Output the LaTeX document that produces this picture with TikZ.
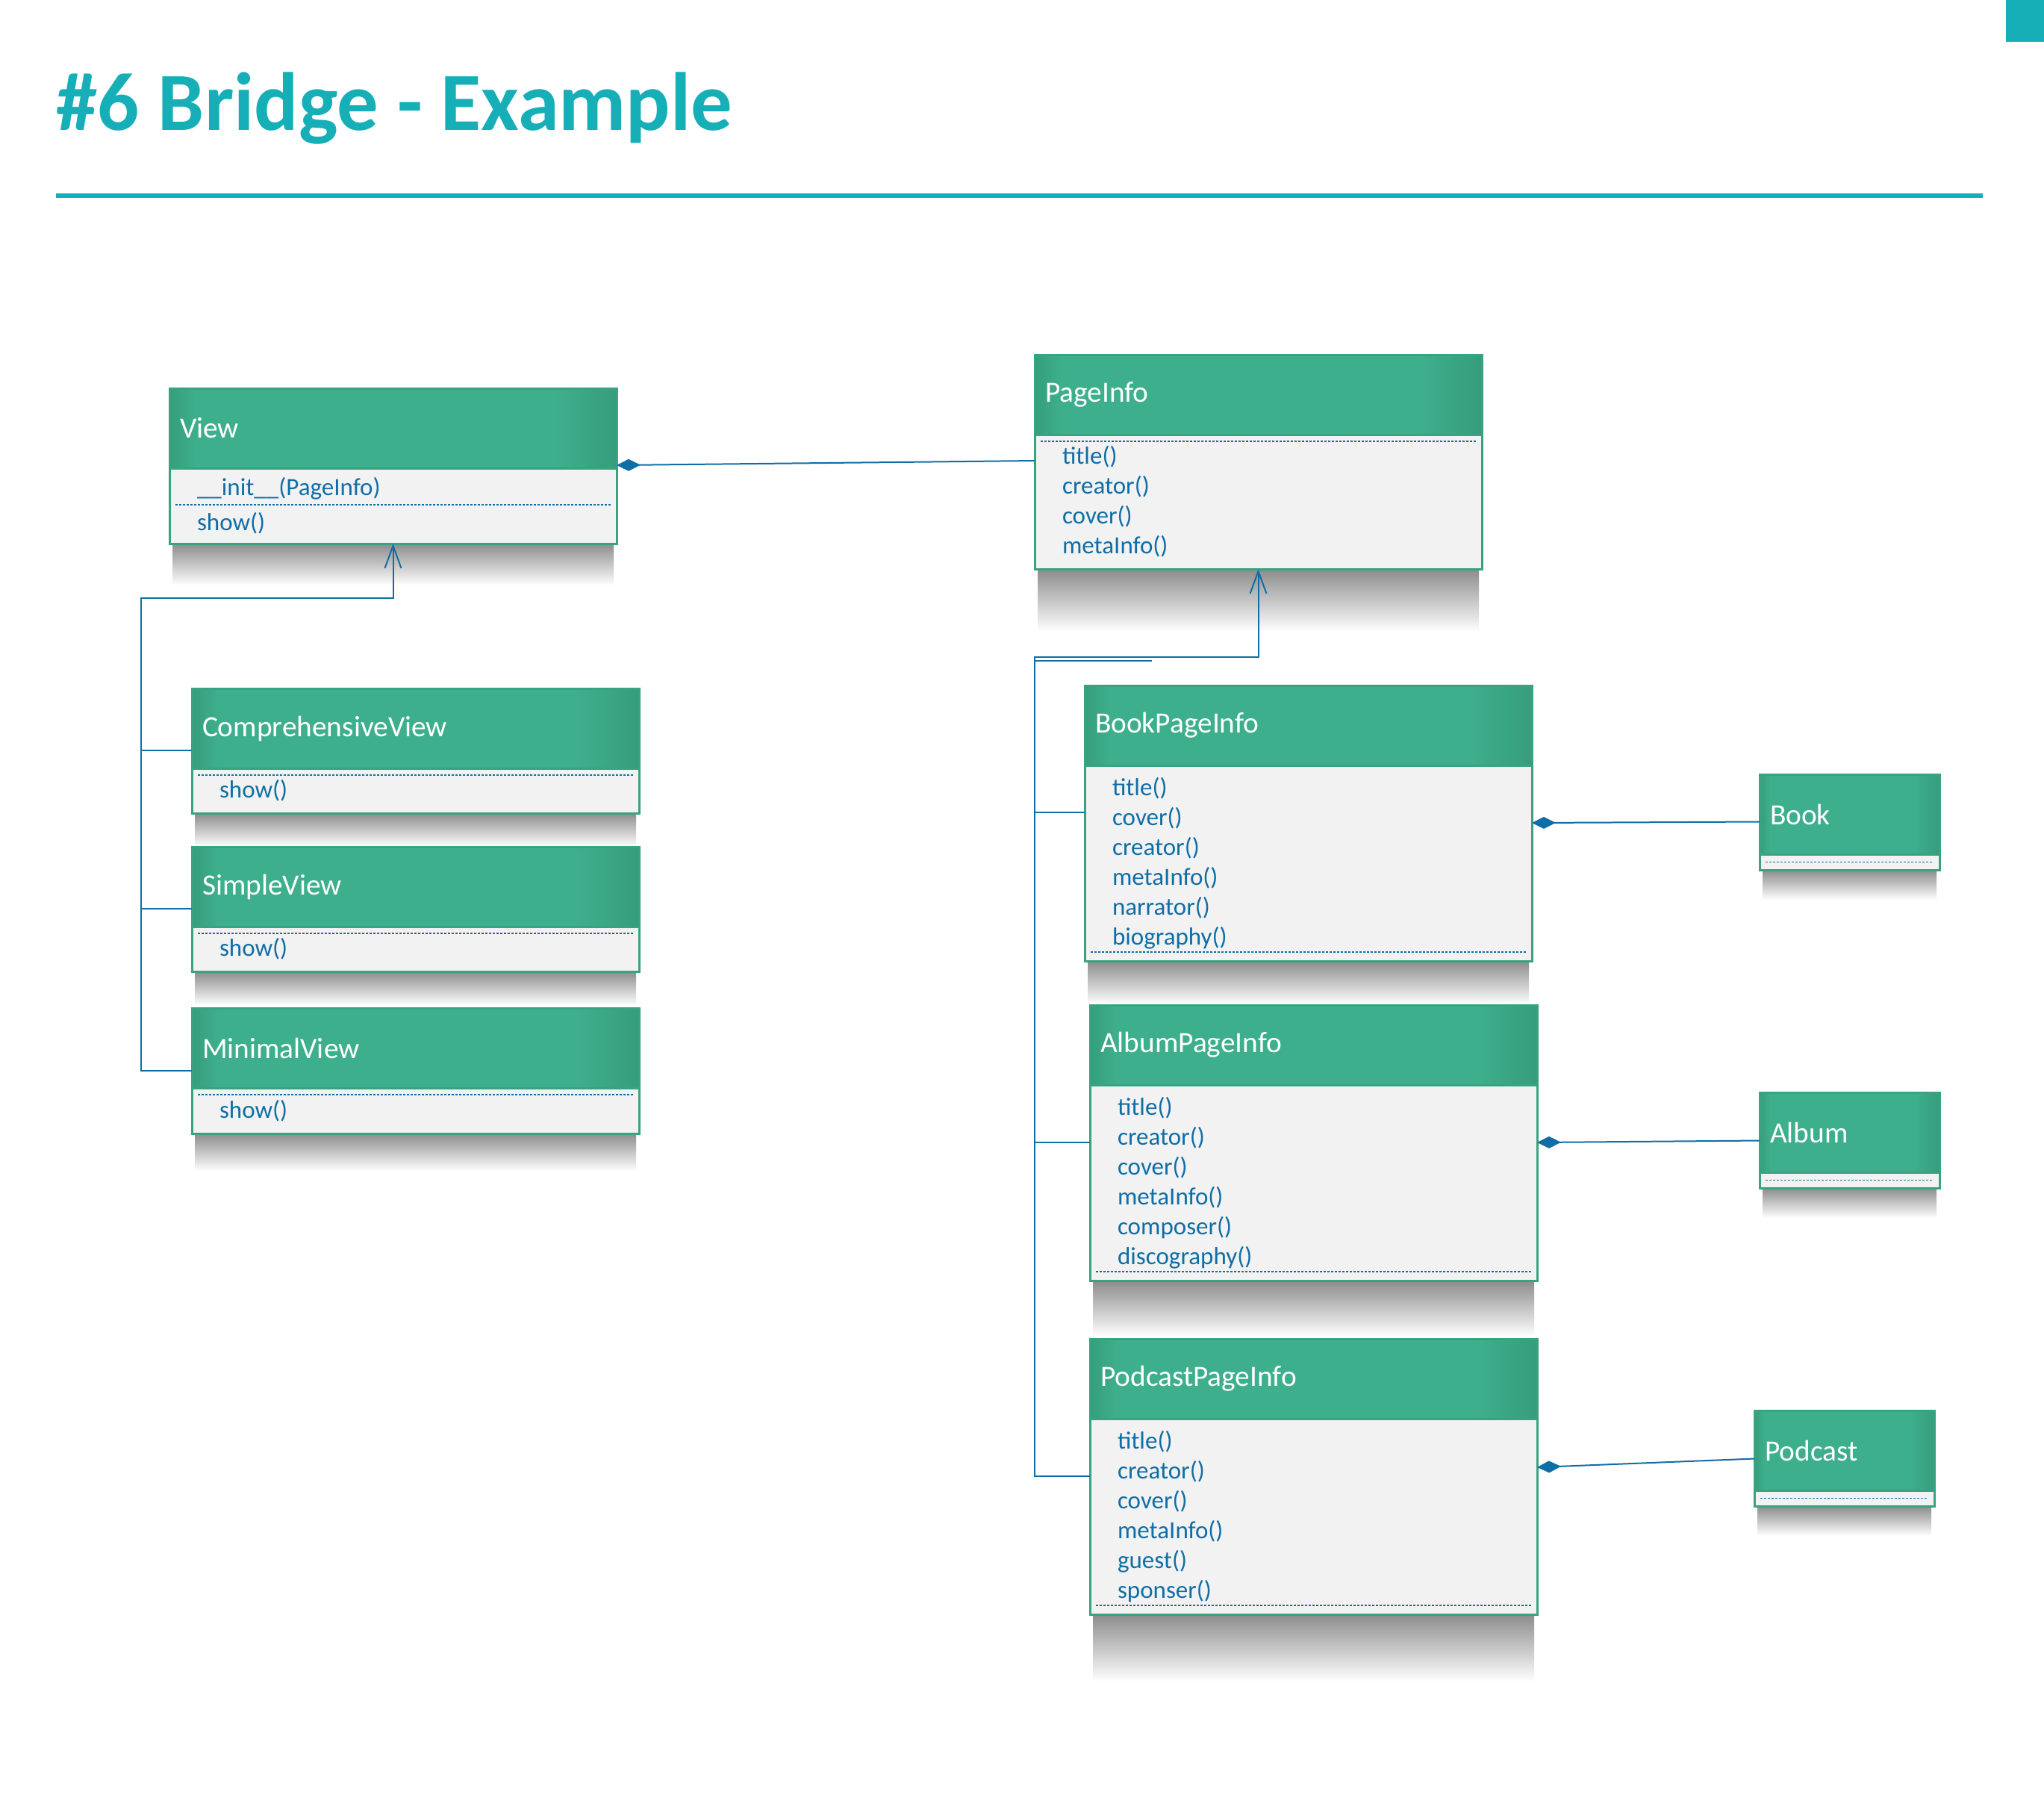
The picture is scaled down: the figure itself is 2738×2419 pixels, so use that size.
\documentclass[tikz,border=0pt]{standalone}
\usepackage{fontspec}
\setmainfont{Carlito}
\usetikzlibrary{arrows.meta, positioning, backgrounds}

\definecolor{titlecol}{RGB}{23,175,183}
\definecolor{hmain}{RGB}{62,175,140}
\definecolor{hedge}{RGB}{54,157,124}
\definecolor{boxline}{RGB}{56,163,128}
\definecolor{opsblue}{RGB}{16,110,166}
\pgfdeclarehorizontalshading{headshade}{100bp}{color(0bp)=(hedge); color(25bp)=(hedge); color(28bp)=(hmain); color(68bp)=(hmain); color(75bp)=(hedge); color(100bp)=(hedge)}

\begin{document}
\begin{tikzpicture}[x=0.1mm, y=-0.1mm,
    head/.style={draw=boxline, line width=0.3mm, shade, shading=headshade, text=white, anchor=north west, align=left, text width=57.1mm, inner xsep=1.4mm, inner ysep=0pt, minimum height=10.7mm, outer sep=0pt, font=\fontsize{11.2}{13}\selectfont},
    ops/.style={draw=boxline, line width=0.3mm, fill=black!5, text=opsblue, align=left, text width=52.5mm, inner xsep=3.7mm, inner ysep=0.5mm, outer sep=0pt, font=\fontsize{9.4}{11.38}\selectfont},
    small/.style={text width=21.3mm, minimum height=10.7mm},
    smallops/.style={text width=16.7mm, minimum height=2.1mm},
    sep/.style={opsblue, line width=0.15mm, dash pattern=on 0.3mm off 0.2mm},
    conn/.style={opsblue, line width=0.2mm},
    inherit/.style={conn, -{Straight Barb[length=3mm, width=2.2mm]}},
    compose/.style={conn, {Diamond[length=3.2mm, width=1.6mm]}-},
    drop/.style={top color=black!45, bottom color=white, draw=none}
  ]
    \useasboundingbox (0,0) rectangle (2738,2419);
    \fill[titlecol] (2687,0) rectangle (2738,56);
    \node[anchor=base west, inner sep=0pt, text=titlecol, font=\fontsize{31.5}{36}\selectfont\bfseries] (title) at (75,174) {\#6 Bridge - Example};
    \draw[titlecol, line width=0.6mm] (75,262) -- (2656,262);

    \node[head] (view) at (227,520) {View};
    \node[ops, below=0pt of view, minimum height=10.1mm] (viewm) {\_\_init\_\_(PageInfo)\\[0.7mm]show()};
    \node[head] (page) at (1386,475) {PageInfo};
    \node[ops, below=0pt of page, minimum height=18mm] (pagem) {title()\\creator()\\cover()\\metaInfo()};

    \node[head] (comp) at (257,922) {ComprehensiveView};
    \node[ops, below=0pt of comp, minimum height=6mm] (compm) {show()};
    \node[head, below=4.5mm of compm, anchor=north] (simple) {SimpleView};
    \node[ops, below=0pt of simple, minimum height=6mm] (simplem) {show()};
    \node[head, below=4.9mm of simplem, anchor=north] (minimal) {MinimalView};
    \node[ops, below=0pt of minimal, minimum height=6.1mm] (minimalm) {show()};

    \node[head] (bookpage) at (1453,918) {BookPageInfo};
    \node[ops, below=0pt of bookpage, minimum height=26.2mm] (bookpagem) {title()\\cover()\\creator()\\metaInfo()\\narrator()\\biography()};
    \node[head] (albumpage) at (1460,1346) {AlbumPageInfo};
    \node[ops, below=0pt of albumpage, minimum height=26.2mm] (albumpagem) {title()\\creator()\\cover()\\metaInfo()\\composer()\\discography()};
    \node[head] (podpage) at (1460,1793) {PodcastPageInfo};
    \node[ops, below=0pt of podpage, minimum height=26.2mm] (podpagem) {title()\\creator()\\cover()\\metaInfo()\\guest()\\sponser()};

    \node[head, small] (book) at (2357,1037) {Book};
    \node[ops, smallops, below=0pt of book] (bookm) {};
    \node[head, small] (album) at (2357,1463) {Album};
    \node[ops, smallops, below=0pt of album] (albumm) {};
    \node[head, small] (podcast) at (2350,1889) {Podcast};
    \node[ops, smallops, below=0pt of podcast] (podcastm) {};

    \begin{scope}[on background layer]
      \foreach \n/\h in {viewm/5.6, pagem/8.4, compm/4.5, simplem/4.5, minimalm/5, bookpagem/5.8, albumpagem/7.5, podpagem/9, bookm/4, albumm/4, podcastm/4}
        \shade[drop] ([xshift=0.4mm]\n.south west) rectangle ([xshift=-0.4mm, yshift=-\h mm]\n.south east);
    \end{scope}

    \draw[sep] ([xshift=0.8mm, yshift=-4.9mm]viewm.north west) -- ([xshift=-0.8mm, yshift=-4.9mm]viewm.north east);
    \foreach \n in {pagem, compm, simplem, minimalm}
      \draw[sep] ([xshift=0.8mm, yshift=-0.9mm]\n.north west) -- ([xshift=-0.8mm, yshift=-0.9mm]\n.north east);
    \foreach \n in {bookpagem, albumpagem, podpagem}
      \draw[sep] ([xshift=0.8mm, yshift=1.2mm]\n.south west) -- ([xshift=-0.8mm, yshift=1.2mm]\n.south east);
    \foreach \n in {bookm, albumm, podcastm}
      \draw[sep] ([xshift=0.8mm]\n.west) -- ([xshift=-0.8mm]\n.east);

    \coordinate (vjoin) at (189,801);
    \coordinate (pjoin) at (1386,880);
    \draw[compose] ([yshift=0.4mm]view.south east) -- ([yshift=-3.5mm]pagem.north west);
    \draw[inherit] ([yshift=2.4mm]comp.south west) -| (vjoin) -| (viewm.south);
    \draw[conn] ([yshift=2.4mm]simple.south west) -| (vjoin);
    \draw[conn] ([yshift=2.3mm]minimal.south west) -| (vjoin);
    \draw[inherit] ([yshift=-6.3mm]bookpagem.north west) -| (pjoin) -| (pagem.south);
    \draw[conn] ([yshift=-7.7mm]albumpagem.north west) -| (pjoin);
    \draw[conn] ([yshift=-7.7mm]podpagem.north west) -| (pjoin);
    \draw[conn] ([yshift=-0.5mm]pjoin) -- ++(157,0);
    \draw[compose] ([yshift=-7.7mm]bookpagem.north east) -- ([yshift=-1mm]book.west);
    \draw[compose] ([yshift=-7.7mm]albumpagem.north east) -- ([yshift=-1.1mm]album.west);
    \draw[compose] ([yshift=-6.5mm]podpagem.north east) -- ([yshift=-1.1mm]podcast.west);
  \end{tikzpicture}
\end{document}
